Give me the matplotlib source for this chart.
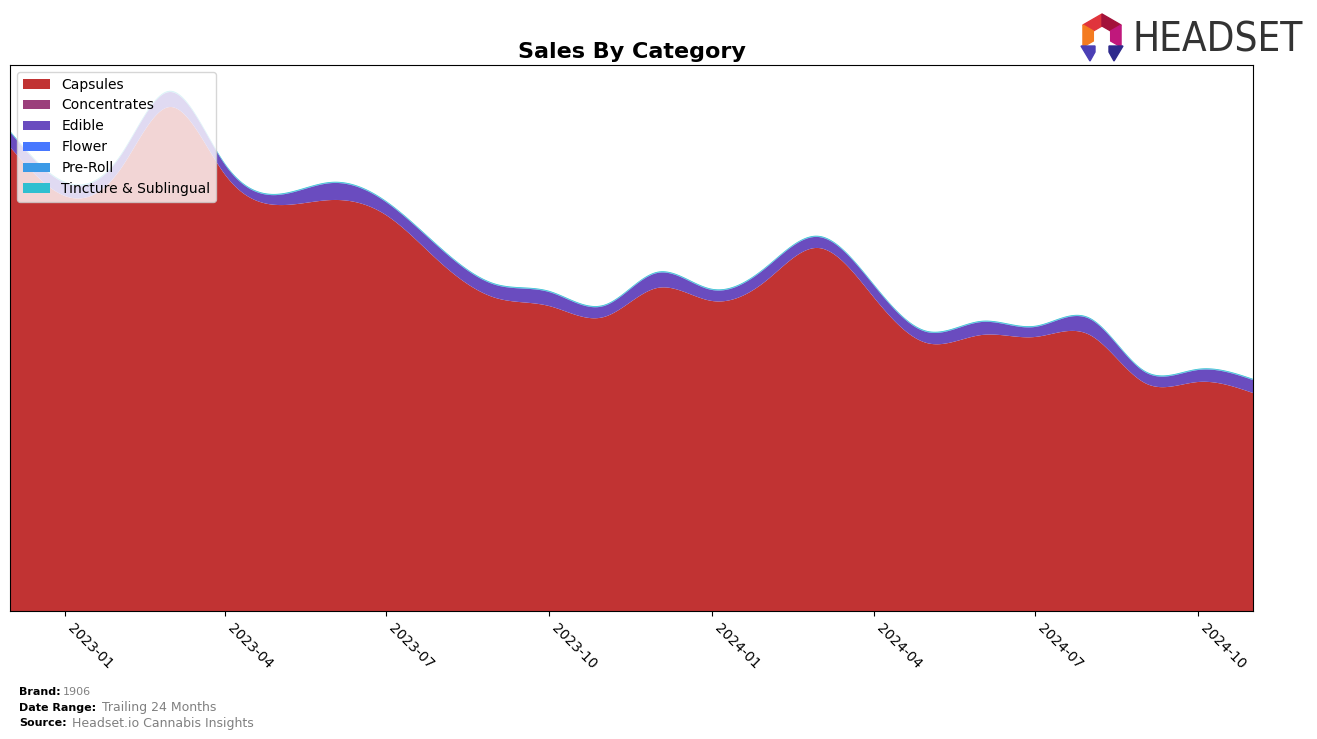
import numpy as np
import pandas as pd
import matplotlib
matplotlib.use("Agg")
import matplotlib.pyplot as plt
import matplotlib.dates as mdates
from matplotlib.patches import Polygon

# monthly data, Dec 2022 .. Nov 2024 (arbitrary sales units)
months = pd.date_range("2022-12-01", "2024-11-01", freq="MS")
capsules = [464, 415, 441, 504, 437, 406, 411, 396, 348, 313, 305, 294,
            323, 310, 331, 363, 314, 268, 276, 274, 276, 228, 229, 218]
concentrates = [0] * 24
edible = [15, 13, 13, 15, 10, 10, 17, 13, 14, 13, 14, 11,
          15, 11, 13, 11, 12, 11, 13, 10, 16, 11, 12, 13]
flower = [0] * 24
pre_roll = [0.4] * 24
tincture = [0.8] * 24

labels = ["Capsules", "Concentrates", "Edible", "Flower", "Pre-Roll", "Tincture & Sublingual"]
colors = ["#c13333", "#9b3f7b", "#6a4cbf", "#4778ff", "#3b9ae6", "#2fbfd0"]
series = [capsules, concentrates, edible, flower, pre_roll, tincture]


def natural_spline(x, y, xs):
    x = np.asarray(x, float)
    y = np.asarray(y, float)
    n = len(x)
    h = np.diff(x)
    A = np.zeros((n, n))
    b = np.zeros(n)
    A[0, 0] = 1
    A[-1, -1] = 1
    for i in range(1, n - 1):
        A[i, i - 1] = h[i - 1]
        A[i, i] = 2 * (h[i - 1] + h[i])
        A[i, i + 1] = h[i]
        b[i] = 6 * ((y[i + 1] - y[i]) / h[i] - (y[i] - y[i - 1]) / h[i - 1])
    M = np.linalg.solve(A, b)
    idx = np.clip(np.searchsorted(x, xs) - 1, 0, n - 2)
    x0, x1 = x[idx], x[idx + 1]
    hh = x1 - x0
    s = (M[idx] * (x1 - xs) ** 3 / (6 * hh) + M[idx + 1] * (xs - x0) ** 3 / (6 * hh)
         + (y[idx] / hh - M[idx] * hh / 6) * (x1 - xs)
         + (y[idx + 1] / hh - M[idx + 1] * hh / 6) * (xs - x0))
    return s


xnum = mdates.date2num(months)
xs = np.linspace(xnum[0], xnum[-1], 600)
smooth = [np.clip(natural_spline(xnum, s, xs), 0, None) for s in series]

fig = plt.figure(figsize=(13.17, 7.39), dpi=100)
W, H = 1317, 739
ax = fig.add_axes([10 / W, 1 - 611 / H, 1243 / W, 546 / H])

ax.stackplot(mdates.num2date(xs), *smooth, labels=labels, colors=colors)
ax.set_xlim(months[0], months[-1])
ax.set_ylim(0, 546)
ax.set_yticks([])
ax.xaxis.set_major_locator(mdates.MonthLocator(bymonth=[1, 4, 7, 10]))
ax.xaxis.set_major_formatter(mdates.DateFormatter("%Y-%m"))
plt.setp(ax.get_xticklabels(), rotation=-45, ha="left", fontsize=10)

ax.set_title("Sales By Category", fontsize=16, fontweight="bold", pad=5)
ax.legend(loc="upper left", fontsize=10)

# footer
fig.text(19 / W, 1 - 692 / H, "Brand:", fontsize=8, fontweight="bold", va="center")
fig.text(63 / W, 1 - 692 / H, "1906", fontsize=8, color="gray", va="center")
fig.text(19 / W, 1 - 708 / H, "Date Range:", fontsize=8, fontweight="bold", va="center")
fig.text(102 / W, 1 - 708 / H, "Trailing 24 Months", fontsize=9, color="gray", va="center")
fig.text(19 / W, 1 - 723 / H, "Source:", fontsize=8, fontweight="bold", va="center")
fig.text(72 / W, 1 - 723 / H, "Headset.io Cannabis Insights", fontsize=9, color="gray", va="center")

# logo
fig.text(1133 / W, 1 - 40 / H, "HEADSET", fontsize=29, color="#333333", va="center",
         family="DejaVu Sans", fontstretch="condensed")


def px(pts):
    return [(x / W, 1 - y / H) for x, y in pts]


cx, cy = 1102, 36
ro, ri = 22, 10
ang = {}
for a in [90, 30, -30, -90, -150, 150]:
    r = np.radians(a)
    ang[a] = (np.cos(r), -np.sin(r))


def ring(a1, a2, col):
    p = [(cx + ro * ang[a1][0], cy + ro * ang[a1][1]), (cx + ro * ang[a2][0], cy + ro * ang[a2][1]),
         (cx + ri * ang[a2][0], cy + ri * ang[a2][1]), (cx + ri * ang[a1][0], cy + ri * ang[a1][1])]
    fig.add_artist(Polygon(px(p), closed=True, color=col, transform=fig.transFigure))


ring(90, 150, "#e0343c")
ring(30, 90, "#a3123a")
ring(-30, 30, "#c0187c")
ring(150, -150, "#f47b20")
fig.add_artist(Polygon(px([(1081, 46), (1095, 46), (1095, 52), (1090, 61)]), closed=True,
                       color="#4b3fb5", transform=fig.transFigure))
fig.add_artist(Polygon(px([(1109, 46), (1123, 46), (1114, 61), (1109, 52)]), closed=True,
                       color="#2e2a8c", transform=fig.transFigure))

fig.savefig("out.png", dpi=100)
